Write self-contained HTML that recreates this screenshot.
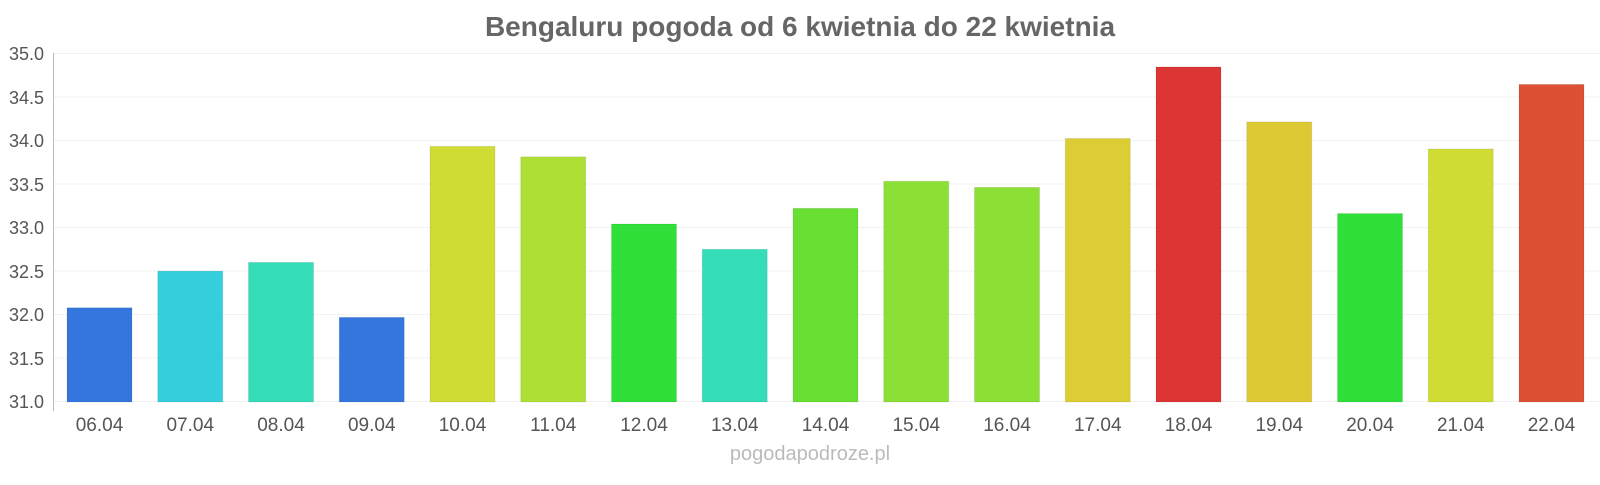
<!DOCTYPE html><html><head><meta charset="utf-8"><style>body{margin:0;background:#fff}</style></head><body>
<svg width="1600" height="480" xmlns="http://www.w3.org/2000/svg" font-family="Liberation Sans, sans-serif">
<text x="800" y="36" text-anchor="middle" font-size="28" font-weight="bold" fill="#666">Bengaluru pogoda od 6 kwietnia do 22 kwietnia</text>
<g stroke="#eee" stroke-width="1" stroke-dasharray="3,1">
<line x1="53" x2="1600" y1="53.5" y2="53.5"/><line x1="53" x2="1600" y1="97" y2="97"/><line x1="53" x2="1600" y1="140.5" y2="140.5"/><line x1="53" x2="1600" y1="184" y2="184"/><line x1="53" x2="1600" y1="227.5" y2="227.5"/><line x1="53" x2="1600" y1="271" y2="271"/><line x1="53" x2="1600" y1="314.5" y2="314.5"/><line x1="53" x2="1600" y1="358" y2="358"/><line x1="53" x2="1600" y1="401.5" y2="401.5"/>
</g>
<line x1="53.5" x2="53.5" y1="53" y2="411" stroke="#bbb"/>
<g font-size="18" fill="#555" text-anchor="end">
<text x="44" y="60">35.0</text><text x="44" y="104">34.5</text><text x="44" y="147">34.0</text><text x="44" y="191">33.5</text><text x="44" y="234">33.0</text><text x="44" y="278">32.5</text><text x="44" y="321">32.0</text><text x="44" y="365">31.5</text><text x="44" y="408">31.0</text>
</g>
<g id="bars"></g>
<g id="labels" font-size="19" fill="#555" text-anchor="middle"></g>
<text x="810" y="460" text-anchor="middle" font-size="20" fill="#bbb">pogodapodroze.pl</text>
<script>
var v=[32.08,32.5,32.6,31.97,33.93,33.81,33.04,32.75,33.22,33.53,33.46,34.02,34.84,34.21,33.16,33.9,34.64];
var c=["#3476dd","#34cedd","#34dcb8","#3476dd","#cfdc34","#aedf34","#31df3a","#34dcb8","#69df34","#8cdf34","#8cdf34","#dccd34","#dd3434","#dcc934","#31df3a","#cfdc34","#dd5034"];
var b=document.getElementById("bars"),l=document.getElementById("labels"),ns="http://www.w3.org/2000/svg";
for(var i=0;i<17;i++){var cx=99.5+i*90.75,y=402-(v[i]-31)*87.25;
var r=document.createElementNS(ns,"rect");r.setAttribute("x",cx-32.5);r.setAttribute("y",y);r.setAttribute("width",65);r.setAttribute("height",402-y);r.setAttribute("fill",c[i]);r.setAttribute("stroke","rgba(0,0,0,0.08)");b.appendChild(r);
var t=document.createElementNS(ns,"text");t.setAttribute("x",cx);t.setAttribute("y",431);t.textContent=["06","07","08","09","10","11","12","13","14","15","16","17","18","19","20","21","22"][i]+".04";l.appendChild(t);}
</script>
</svg></body></html>
